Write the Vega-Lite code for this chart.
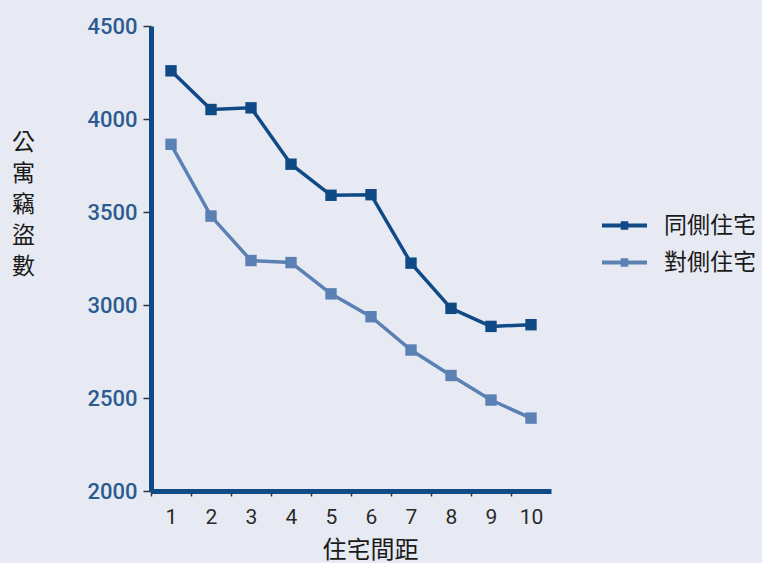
{
  "$schema": "https://vega.github.io/schema/vega-lite/v6.json",
  "autosize": "none",
  "width": 400,
  "height": 465,
  "padding": {"left": 151, "top": 26, "right": 211, "bottom": 72},
  "background": "#e7eaf3",
  "config": {
    "view": {"stroke": null},
    "font": "Roboto"
  },
  "data": {
    "values": [
      {"d": 1, "s": "同側住宅", "v": 4259},
      {"d": 2, "s": "同側住宅", "v": 4051},
      {"d": 3, "s": "同側住宅", "v": 4060},
      {"d": 4, "s": "同側住宅", "v": 3757},
      {"d": 5, "s": "同側住宅", "v": 3590},
      {"d": 6, "s": "同側住宅", "v": 3593},
      {"d": 7, "s": "同側住宅", "v": 3225},
      {"d": 8, "s": "同側住宅", "v": 2982},
      {"d": 9, "s": "同側住宅", "v": 2885},
      {"d": 10, "s": "同側住宅", "v": 2894},
      {"d": 1, "s": "對側住宅", "v": 3864},
      {"d": 2, "s": "對側住宅", "v": 3478},
      {"d": 3, "s": "對側住宅", "v": 3239},
      {"d": 4, "s": "對側住宅", "v": 3228},
      {"d": 5, "s": "對側住宅", "v": 3060},
      {"d": 6, "s": "對側住宅", "v": 2937},
      {"d": 7, "s": "對側住宅", "v": 2758},
      {"d": 8, "s": "對側住宅", "v": 2621},
      {"d": 9, "s": "對側住宅", "v": 2489},
      {"d": 10, "s": "對側住宅", "v": 2392}
    ]
  },
  "encoding": {
    "x": {
      "field": "d", "type": "ordinal",
      "scale": {"paddingInner": 0, "paddingOuter": 0},
      "axis": {
        "title": "住宅間距",
        "titleFont": "Noto Sans CJK TC", "titleFontSize": 24, "titleFontWeight": "normal", "titleColor": "#1a1a1a",
        "titleAnchor": "start", "titleAlign": "center", "titleBaseline": "middle", "titleX": 219, "titleY": 59,
        "labelAngle": 0, "labelFont": "Roboto", "labelFontSize": 21, "labelColor": "#2a2a2a",
        "labelPadding": 10, "tickSize": 5, "tickColor": "#333333", "tickWidth": 1.5,
        "tickOffset": -20, "labelOffset": 20,
        "domainColor": "#0e4a85", "domainWidth": 5
      }
    },
    "y": {
      "field": "v", "type": "quantitative",
      "scale": {"domain": [2000, 4500], "nice": false, "zero": false},
      "axis": {
        "title": ["公", "寓", "竊", "盜", "數"],
        "titleFont": "Noto Sans CJK TC", "titleFontSize": 23, "titleFontWeight": "normal", "titleColor": "#1a1a1a",
        "titleAngle": 0, "titleAlign": "center", "titleBaseline": "top", "titleX": -128, "titleY": 105, "titleLineHeight": 31,
        "values": [2000, 2500, 3000, 3500, 4000, 4500], "format": "d",
        "labelFont": "Roboto", "labelFontSize": 22, "labelFontWeight": 500, "labelColor": "#2c5b91",
        "labelPadding": 6, "tickSize": 8, "tickColor": "#333333", "tickWidth": 1.5,
        "domainColor": "#0e4a85", "domainWidth": 5, "grid": false
      }
    },
    "color": {
      "field": "s", "type": "nominal",
      "scale": {"domain": ["同側住宅", "對側住宅"], "range": ["#0f4a86", "#5a80b4"]},
      "legend": {
        "title": null, "orient": "none", "legendX": 449, "legendY": 175,
        "labelFont": "Noto Sans CJK TC", "labelFontSize": 23, "labelColor": "#1a1a1a",
        "labelOffset": 15, "rowPadding": 0,
        "symbolType": "M-1,0H1M-0.08,-0.1H0.08V0.1H-0.08Z", "symbolSize": 2025, "symbolStrokeWidth": 4
      }
    }
  },
  "layer": [
    {"mark": {"type": "line", "strokeWidth": 3.5}},
    {"mark": {"type": "point", "shape": "square", "filled": true, "size": 130, "opacity": 1}}
  ]
}
